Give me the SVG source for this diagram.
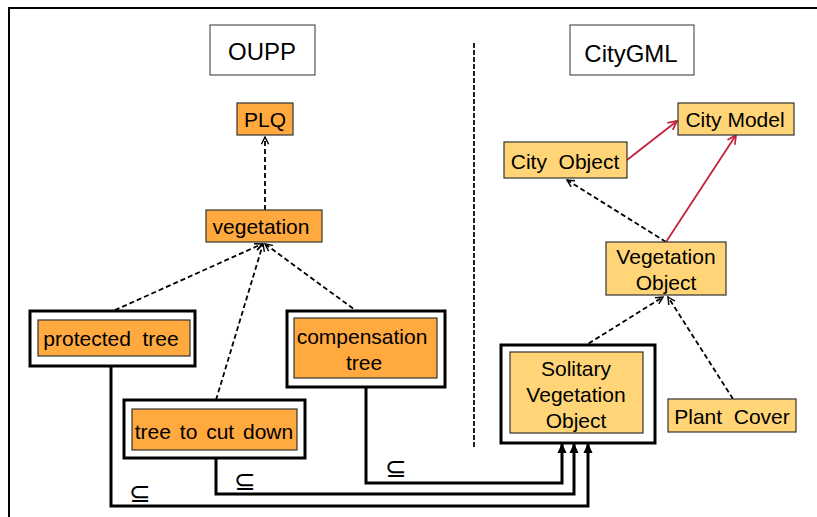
<svg xmlns="http://www.w3.org/2000/svg" width="817" height="517" viewBox="0 0 817 517">
<defs>
<style>
text{font-family:"Liberation Sans",Arial,sans-serif;font-size:21px;fill:#000;text-anchor:middle;white-space:pre}
.org{fill:#FFA93F;stroke:#333;stroke-width:1.2}
.yel{fill:#FFD577;stroke:#333;stroke-width:1.2}
.wrap{fill:#fff;stroke:#000;stroke-width:3}
.title{fill:#fff;stroke:#333;stroke-width:1}
.dash{fill:none;stroke:#000;stroke-width:1.8;stroke-dasharray:5,3;marker-end:url(#open)}
.red{fill:none;stroke:#C4213A;stroke-width:1.8;marker-end:url(#openr)}
.inc{fill:none;stroke:#000;stroke-width:3;marker-end:url(#solid)}
.sub{font-size:26px}
.big{font-size:24px}
</style>
<marker id="open" viewBox="0 0 10 10" refX="9" refY="5" markerWidth="9" markerHeight="9" markerUnits="userSpaceOnUse" orient="auto">
<path d="M1,1 L9,5 L1,9" fill="none" stroke="#000" stroke-width="1.6"/>
</marker>
<marker id="openr" viewBox="0 0 10 10" refX="9" refY="5" markerWidth="11" markerHeight="11" markerUnits="userSpaceOnUse" orient="auto">
<path d="M1,1 L9,5 L1,9" fill="none" stroke="#C4213A" stroke-width="1.6"/>
</marker>
<marker id="solid" viewBox="0 0 10 10" refX="9" refY="5" markerWidth="10" markerHeight="10" markerUnits="userSpaceOnUse" orient="auto">
<path d="M0,0.5 L10,5 L0,9.5 Z" fill="#000"/>
</marker>
</defs>
<rect x="9" y="8" width="830" height="530" fill="#fff" stroke="#000" stroke-width="2"/>
<line x1="474" y1="43" x2="474" y2="447" stroke="#222" stroke-width="2" stroke-dasharray="5,2"/>
<g id="title-oupp"><rect class="title" x="210" y="25" width="105" height="50"/><text class="big" x="262" y="60">OUPP</text></g>
<g id="title-citygml"><rect class="title" x="570" y="25" width="124" height="50"/><text class="big" x="631" y="62">CityGML</text></g>
<g id="connectors">
<line class="dash" x1="265" y1="210" x2="265" y2="137"/>
<line class="dash" x1="93" y1="320" x2="262" y2="244"/>
<line class="dash" x1="216" y1="400" x2="263" y2="244"/>
<line class="dash" x1="366" y1="318" x2="265" y2="244"/>
<line class="dash" x1="666" y1="242" x2="567" y2="180"/>
<line class="dash" x1="575" y1="352" x2="663" y2="297"/>
<line class="dash" x1="733" y1="399" x2="668" y2="297"/>
<line class="red" x1="627" y1="160" x2="677" y2="121"/>
<line class="red" x1="666" y1="242" x2="736" y2="135"/>
<polyline class="inc" points="111,366 111,506 588,506 588,444"/>
<polyline class="inc" points="216,458 216,494 574,494 574,444"/>
<polyline class="inc" points="366,387 366,483 562,483 562,444"/>
<text class="sub" x="140" y="502">⊆</text>
<text class="sub" x="245" y="490">⊆</text>
<text class="sub" x="396" y="477">⊆</text>
</g>
<g id="plq"><rect class="org" x="237" y="103" width="56" height="32"/><text x="265" y="127">PLQ</text></g>
<g id="vegetation"><rect class="org" x="206" y="210" width="116" height="32"/><text x="261" y="234">vegetation</text></g>
<g id="protected-tree"><rect class="wrap" x="30" y="311" width="165" height="55"/><rect class="org" x="38" y="320" width="152" height="36"/><text x="111" y="346">protected  tree</text></g>
<g id="compensation-tree"><rect class="wrap" x="287" y="311" width="158" height="76"/><rect class="org" x="294" y="318" width="143" height="60"/><text x="362" y="344">compensation</text><text x="364" y="370">tree</text></g>
<g id="tree-to-cut-down"><rect class="wrap" x="124" y="400" width="181" height="58"/><rect class="org" x="132" y="409" width="165" height="41"/><text x="214" y="439" style="word-spacing:3px">tree to cut down</text></g>
<g id="city-model"><rect class="yel" x="678" y="103" width="116" height="32"/><text x="735" y="127">City Model</text></g>
<g id="city-object"><rect class="yel" x="504" y="142" width="123" height="36"/><text x="565" y="169">City  Object</text></g>
<g id="vegetation-object"><rect class="yel" x="606" y="242" width="120" height="53"/><text x="666" y="264">Vegetation</text><text x="666" y="290">Object</text></g>
<g id="solitary-vegetation-object"><rect class="wrap" x="501" y="345" width="154" height="98"/><rect class="yel" x="510" y="352" width="133" height="81"/><text x="576" y="376">Solitary</text><text x="576" y="402">Vegetation</text><text x="576" y="428">Object</text></g>
<g id="plant-cover"><rect class="yel" x="668" y="399" width="128" height="33"/><text x="732" y="424">Plant  Cover</text></g>
</svg>
